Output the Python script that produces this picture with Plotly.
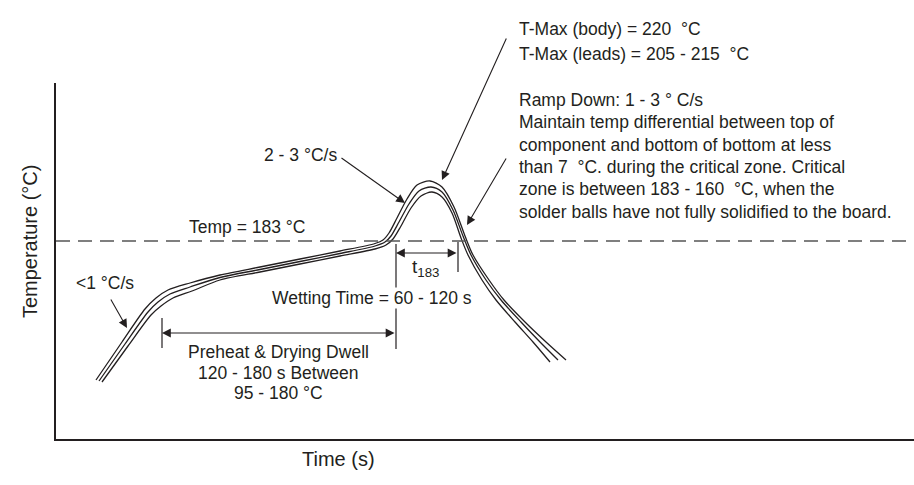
from plotly import graph_objs as go

# reflow profile, three thermocouple traces (time in s, temperature in degC)
time_top = [20, 33, 44.5, 50, 56, 67, 82, 102, 122, 142, 159.5, 163.5, 166.5, 170.5, 175.5, 180.5,
            187, 193, 199, 204.5, 208.5, 216.5, 224, 234.5, 245, 255]
temp_top = [99.6, 122.4, 142.2, 148.8, 153.6, 157.8, 162.6, 167.4, 172.2, 177, 181.5, 183.6, 187.8,
            196.8, 208.2, 216.6, 219, 215.4, 203.4, 186, 174.6, 159.6, 147.6, 134.4, 122.4, 111.6]

time_mid = [21.5, 34.5, 46, 51, 57, 67, 82, 102, 122, 142, 159.5, 164.5, 167.5, 171.5, 176.5, 181.5,
            187.5, 193, 198.5, 203.5, 207.5, 215, 222.5, 232.5, 242, 251]
temp_mid = [99, 121.2, 140.4, 146.4, 151.2, 155.4, 161.1, 165.9, 170.7, 175.5, 180, 182.4, 186,
            194.4, 205.2, 213, 215.4, 212.4, 201.6, 186, 174.6, 159.6, 147.6, 134.4, 122.4, 111.6]

time_bot = [23, 36, 47.5, 52.5, 58.5, 68, 82, 102, 122, 142, 159.5, 165, 168.5, 172.5, 177.5, 182.5,
            188, 193, 198, 202.5, 206, 213, 220, 229.5, 238.5, 247]
temp_bot = [98.4, 120, 138.6, 144, 148.8, 153, 159.6, 164.4, 169.2, 174, 178.2, 180.6, 184.2,
            192, 202.8, 210, 212.4, 209.4, 199.8, 184.8, 174.6, 159.6, 147.6, 134.4, 122.4, 110.4]

liquidus = 183
wetting_start = 170
wetting_end = 201
preheat_start = 53

FONT = "Liberation Sans, Arial, sans-serif"
INK = "#231f20"
TXT = 17.5

fig = go.Figure()
for t, v in [(time_top, temp_top), (time_mid, temp_mid), (time_bot, temp_bot)]:
    fig.add_trace(go.Scatter(x=t, y=v, mode="lines", line=dict(color=INK, width=1.3, shape="spline", smoothing=0.8),
                             hoverinfo="skip", showlegend=False))

# 183 degC dashed line
fig.add_shape(type="line", xref="paper", x0=0, x1=1, y0=liquidus, y1=liquidus,
              line=dict(color="#555555", width=1.3, dash="14px,8px"))

# dimension ticks
fig.add_shape(type="line", x0=preheat_start, x1=preheat_start, y0=118.8, y1=136.8, line=dict(color=INK, width=1.2))
fig.add_shape(type="line", x0=wetting_start, x1=wetting_start, y0=118.2, y1=181.2, line=dict(color=INK, width=1.2))
fig.add_shape(type="line", x0=wetting_end, x1=wetting_end, y0=164.4, y1=182.4, line=dict(color=INK, width=1.2))


def arrow(x, y, ax, ay, both=False):
    fig.add_annotation(x=x, y=y, ax=ax, ay=ay, xref="x", yref="y", axref="x", ayref="y", text="",
                       showarrow=True, arrowhead=2, arrowsize=1.6, arrowwidth=1.1, arrowcolor=INK,
                       arrowside="end+start" if both else "end", startarrowhead=2, startarrowsize=1.6,
                       standoff=0, startstandoff=0)


def label(x, y, text, anchor="center", yref="y", bg=None, size=TXT):
    fig.add_annotation(x=x, y=y, xref="x", yref=yref, text=text, showarrow=False, xanchor=anchor,
                       bgcolor=bg, borderpad=0,
                       font=dict(family=FONT, size=size, color=INK))


arrow(preheat_start, 127.8, wetting_start, 127.8, both=True)
arrow(wetting_start, 175.8, wetting_end, 175.8, both=True)
arrow(193, 219.6, 225.5, 305.4)
arrow(205.5, 192.6, 225.5, 233.4)
arrow(174.5, 205.8, 142, 233.4)
arrow(35.5, 130.8, 27, 148.8)

label(231, 1.1826, "T-Max (body) = 220\u00a0 °C", "left", yref="paper")
label(231, 1.1124, "T-Max (leads) = 205 - 215\u00a0 °C", "left", yref="paper")
ramp_lines = [
    "Ramp Down: 1 - 3 ° C/s",
    "Maintain temp differential between top of",
    "component and bottom of bottom at less",
    "than 7\u00a0 °C. during the critical zone. Critical",
    "zone is between 183 - 160\u00a0 °C, when the",
    "solder balls have not fully solidified to the board.",
]
for i, line in enumerate(ramp_lines):
    label(231, 267.6 - 13.4 * i, line, "left")

label(122, 234.6, "2 - 3 °C/s")
label(24.5, 157.8, "&lt;1 °C/s")
label(95.5, 191.4, "Temp = 183 °C")
label(158, 148.8, "Wetting Time = 60 - 120 s", bg="white")
label(184.5, 166.8, "t<sub>183</sub>", size=19)
label(111, 116.4, "Preheat & Drying Dwell")
label(111, 103.8, "120 - 180 s Between")
label(111, 91.8, "95 - 180 °C")

fig.add_annotation(x=141, y=-0.093, xref="x", yref="paper", text="Time (s)", showarrow=False,
                   font=dict(family=FONT, size=20, color=INK))
fig.add_annotation(x=-0.029, y=183, xref="paper", yref="y", text="Temperature (°C)", showarrow=False,
                   textangle=-90, xshift=-14, font=dict(family=FONT, size=20, color=INK))

fig.layout.update(
    width=914,
    height=485,
    margin=dict(l=56, r=0, t=83, b=46),
    paper_bgcolor="white",
    plot_bgcolor="white",
    showlegend=False,
    xaxis=dict(range=[0, 429], showline=True, linecolor=INK, linewidth=2, showgrid=False,
               zeroline=False, showticklabels=False, ticks=""),
    yaxis=dict(range=[64.2, 277.8], showline=True, linecolor=INK, linewidth=2, showgrid=False,
               zeroline=False, showticklabels=False, ticks=""),
)

fig.write_html("out.html", config={"displayModeBar": False},
               post_script="document.body.style.margin='0';")
